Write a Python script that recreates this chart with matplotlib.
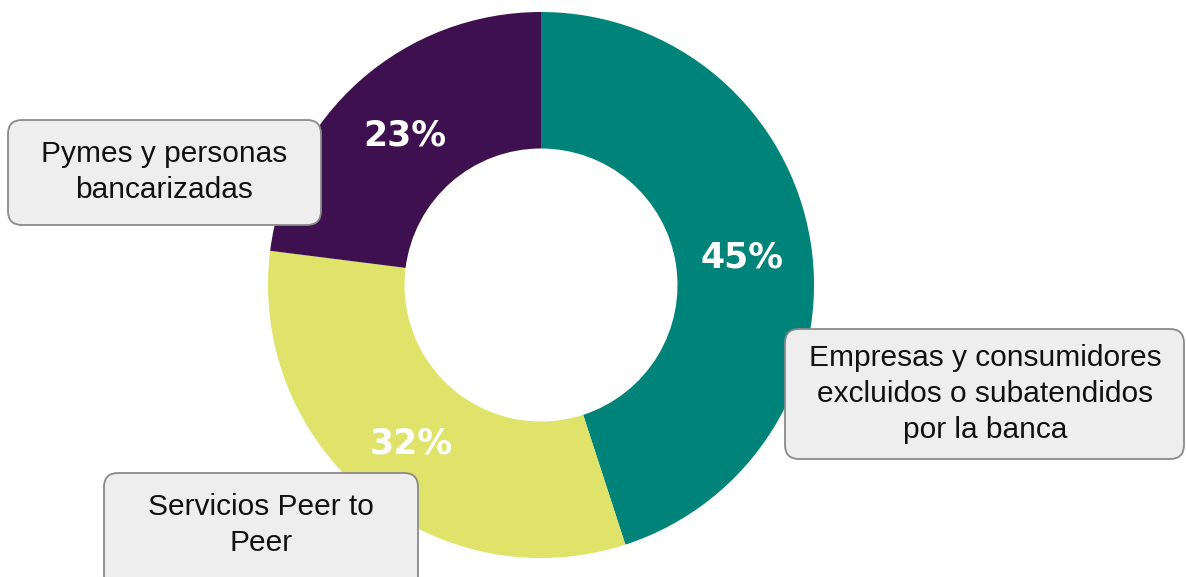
import matplotlib.pyplot as plt
from matplotlib.patches import FancyBboxPatch

shares = [45, 32, 23]
share_labels = ['45%', '32%', '23%']
colors = ['#00847a', '#dfe36a', '#3e104f']
categories = ['Empresas y consumidores\nexcluidos o subatendidos\npor la banca',
              'Servicios Peer to\nPeer',
              'Pymes y personas\nbancarizadas']

W, H = 1186, 577
fig = plt.figure(figsize=(W / 100, H / 100), dpi=100)
ax = fig.add_axes([0, 0, 1, 1])
ax.set_xlim(0, W)
ax.set_ylim(0, H)
ax.set_aspect('equal')
ax.axis('off')

# donut, clockwise from the top
cx, cy, r = 541, 577 - 285, 273
ax.pie(shares, colors=colors, startangle=90, counterclock=False,
       center=(cx, cy), radius=r, wedgeprops=dict(width=r * 0.5, linewidth=0))
ax.set_xlim(0, W)
ax.set_ylim(0, H)

# percentage labels inside the ring
pct_pos = [(742, 257), (411, 443), (405, 135)]
pct_weight = ['bold', 'bold', 'semibold']
for lbl, (x, y), w in zip(share_labels, pct_pos, pct_weight):
    ax.text(x, H - y, lbl, color='white', fontsize=25, fontweight=w,
            family='DejaVu Sans', ha='center', va='center')

# rounded label boxes
boxes = [(785, 329, 1184, 459), (104, 473, 418, 590), (8, 120, 321, 225)]
text_pos = [(985, 394), (261, 525), (164, 172)]
for cat, (x0, y0, x1, y1), (tx, ty) in zip(categories, boxes, text_pos):
    patch = FancyBboxPatch((x0 + 12, H - y1 + 12), (x1 - x0) - 24, (y1 - y0) - 24,
                           boxstyle='round,pad=12,rounding_size=14',
                           facecolor='#eeeeee', edgecolor='#8a8a8a', linewidth=1.3)
    ax.add_patch(patch)
    ax.text(tx, H - ty, cat, fontsize=21.5, family='Liberation Sans',
            ha='center', va='center', linespacing=1.35, color='#111111')

fig.savefig('out.png', dpi=100)
